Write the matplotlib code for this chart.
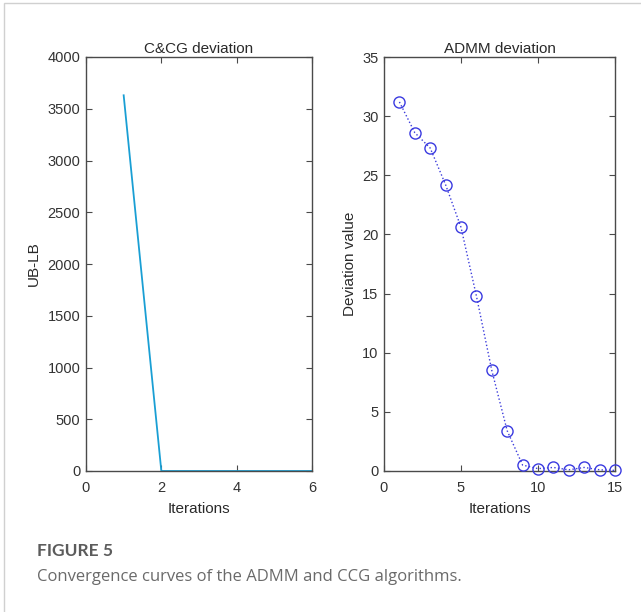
import matplotlib
matplotlib.use("Agg")
import matplotlib.pyplot as plt
from matplotlib.patches import Rectangle

plt.rcParams['font.family'] = ['Liberation Sans', 'DejaVu Sans']

# Data
ccg_iter = [1, 2, 3, 4, 5, 6]
ccg_dev = [3630, 0, 0, 0, 0, 0]
admm_iter = list(range(1, 16))
admm_dev = [31.2, 28.6, 27.3, 24.2, 20.6, 14.8, 8.5, 3.4, 0.5, 0.2, 0.3, 0.1, 0.3, 0.1, 0.05]

left_xticks = [0, 2, 4, 6]
left_yticks = [0, 500, 1000, 1500, 2000, 2500, 3000, 3500, 4000]
right_xticks = [0, 5, 10, 15]
right_yticks = [0, 5, 10, 15, 20, 25, 30, 35]

W, H = 641, 612
fig = plt.figure(figsize=(W / 100, H / 100), dpi=100)

# card border (top & left)
fig.add_artist(Rectangle((4 / W, -0.01), 1.2, 1 - 3 / H + 0.01, transform=fig.transFigure,
                         fill=False, edgecolor='#d0d0d0', linewidth=1.0))

def fx(px):
    return px / W

def fy(py):
    return 1 - py / H

ax1 = fig.add_axes([fx(86), fy(471), fx(312) - fx(86), fy(57) - fy(471)])
ax2 = fig.add_axes([fx(384), fy(471), fx(615) - fx(384), fy(57) - fy(471)])

ax1.plot(ccg_iter, ccg_dev, color='#1a9fd4', linewidth=1.3)
ax1.set_xlim(0, 6)
ax1.set_ylim(0, 4000)
ax1.set_xticks(left_xticks)
ax1.set_yticks(left_yticks)
ax1.set_title('C&CG deviation', fontsize=11, color='#2a2a2a', pad=3)
ax1.set_xlabel('Iterations', fontsize=11, color='#2a2a2a', labelpad=5)
ax1.set_ylabel('UB-LB', fontsize=11, color='#2a2a2a', labelpad=5)

ax2.plot(admm_iter, admm_dev, linestyle=':', color='#3c3cdc', linewidth=1.0,
         marker='o', markersize=8, markerfacecolor='none', markeredgecolor='#3a3ae0',
         markeredgewidth=1.0, clip_on=False, zorder=3)
ax2.set_xlim(0, 15)
ax2.set_ylim(0, 35)
ax2.set_xticks(right_xticks)
ax2.set_yticks(right_yticks)
ax2.set_title('ADMM deviation', fontsize=11, color='#2a2a2a', pad=3)
ax2.set_xlabel('Iterations', fontsize=11, color='#2a2a2a', labelpad=5)
ax2.set_ylabel('Deviation value', fontsize=11, color='#2a2a2a', labelpad=4)

for ax in (ax1, ax2):
    for s in ax.spines.values():
        s.set_color('#4a4a4a')
        s.set_linewidth(1.0)
    ax.tick_params(direction='in', top=True, right=True, length=4, width=0.8,
                   color='#4a4a4a', labelsize=10.5, labelcolor='#333333')
    ax.tick_params(axis='x', pad=7)
    ax.tick_params(axis='y', pad=4)

fig.text(fx(37), fy(551), 'FIGURE 5', fontsize=12.5, fontweight='bold', color='#5c5c5c',
         family=['Lato', 'DejaVu Sans'], va='center', ha='left')
fig.text(fx(37), fy(577), 'Convergence curves of the ADMM and CCG algorithms.', fontsize=12,
         color='#6a6a6a', family=['Open Sans', 'DejaVu Sans'], va='center', ha='left')

fig.savefig('out.png', dpi=100)
